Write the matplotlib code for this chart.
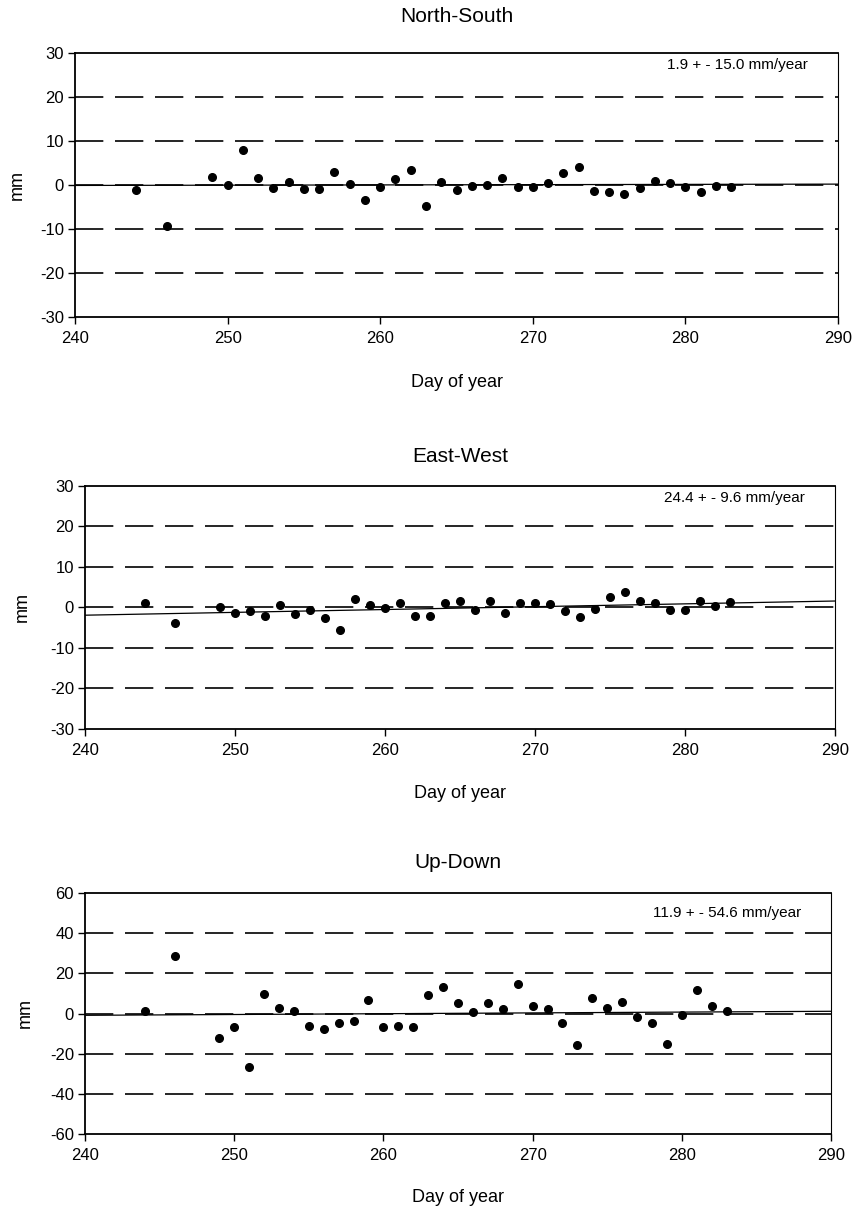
import matplotlib
matplotlib.use('Agg')
import matplotlib.pyplot as plt

plt.rcParams['font.family'] = ['Liberation Sans', 'DejaVu Sans']
plt.rcParams['axes.unicode_minus'] = False

days = [244, 246, 249, 250, 251, 252, 253, 254, 255, 256, 257, 258, 259,
        260, 261, 262, 263, 264, 265, 266, 267, 268, 269, 270, 271, 272,
        273, 274, 275, 276, 277, 278, 279, 280, 281, 282, 283]

north_south = [-1.1, -9.3, 1.8, -0.1, 8.0, 1.7, -0.6, 0.6, -0.8, -1.0, 3.0,
               0.2, -3.3, -0.5, 1.3, 3.3, -4.8, 0.6, -1.2, -0.3, -0.1, 1.7,
               -0.4, -0.4, 0.4, 2.8, 4.2, -1.4, -1.5, -2.1, -0.7, 0.8, 0.5,
               -0.4, -1.6, -0.3, -0.4]

east_west = [1.2, -3.9, 0.0, -1.3, -0.9, -2.0, 0.6, -1.6, -0.7, -2.7, -5.6,
             2.2, 0.5, -0.2, 1.0, -2.2, -2.2, 1.1, 1.6, -0.7, 1.5, -1.4, 1.1,
             1.1, 0.9, -0.9, -2.4, -0.4, 2.5, 3.9, 1.7, 1.2, -0.7, -0.7, 1.6,
             0.4, 1.4]

up_down = [1.0, 28.8, -12.3, -6.8, -26.8, 9.8, 2.7, 1.2, -6.3, -7.7, -4.5,
           -3.5, 6.7, -6.5, -6.0, -6.8, 9.0, 13.3, 5.3, 0.8, 5.2, 2.2, 14.5,
           3.7, 2.2, -4.5, -15.8, 7.8, 2.7, 5.5, -1.7, -4.8, -15.2, -0.5,
           11.7, 3.5, 1.0]

# linear trend, value at day 240 and day 290
trend_days = [240, 290]
ns_trend = [-0.1, 0.2]
ew_trend = [-1.9, 1.6]
ud_trend = [-0.9, 1.1]

titles = ['North-South', 'East-West', 'Up-Down']
rates = ['1.9 + - 15.0 mm/year', '24.4 + - 9.6 mm/year', '11.9 + - 54.6 mm/year']
xticks = [240, 250, 260, 270, 280, 290]

W, H = 856, 1211


def px_box(left, top, right, bottom):
    return [left / W, 1 - bottom / H, (right - left) / W, (bottom - top) / H]


def draw_panel(fig, box, values, trend, ymax, ystep, title, rate,
               title_y, xlabel_y, ylabel_x, rate_y):
    ax = fig.add_axes(px_box(*box))
    yt = list(range(-ymax, ymax + 1, ystep))
    for y in yt[1:-1]:
        ax.axhline(y, color='black', lw=1.2, dashes=(17, 7), zorder=1)
    ax.plot(trend_days, trend, color='black', lw=0.9, zorder=2)
    ax.plot(days, values, 'o', color='black', markersize=5.5, zorder=3)

    ax.set_xlim(240, 290)
    ax.set_ylim(-ymax, ymax)
    ax.set_xticks(xticks)
    ax.set_yticks(yt)
    ax.tick_params(direction='out', length=5, width=1, labelsize=12,
                   colors='black')
    ax.tick_params(axis='x', pad=5)
    ax.tick_params(axis='y', pad=3)
    for side in ['left', 'bottom', 'top']:
        ax.spines[side].set_linewidth(1.3)
    ax.spines['right'].set_linewidth(0.8)

    ax.text(288, rate_y, rate, ha='right', va='center', fontsize=11)

    left, top, right, bottom = box
    cx = (left + right) / 2 / W
    fig.text(cx, 1 - title_y / H, title, ha='center', va='center',
             fontsize=15)
    fig.text(cx, 1 - xlabel_y / H, 'Day of year', ha='center', va='center',
             fontsize=13)
    fig.text(ylabel_x / W, 1 - (top + bottom) / 2 / H, 'mm', ha='center',
             va='center', rotation=90, fontsize=13)
    return ax


fig = plt.figure(figsize=(8.56, 12.11), dpi=100)

draw_panel(fig, (75, 53, 838, 317), north_south, ns_trend, 30, 10,
           titles[0], rates[0], 17, 382, 17, 27.3)
draw_panel(fig, (85, 486, 835, 729), east_west, ew_trend, 30, 10,
           titles[1], rates[1], 457, 793, 22, 27.0)
draw_panel(fig, (85, 893, 831, 1134), up_down, ud_trend, 60, 20,
           titles[2], rates[2], 863, 1197, 25, 50.0)

fig.savefig('out.png', dpi=100)
